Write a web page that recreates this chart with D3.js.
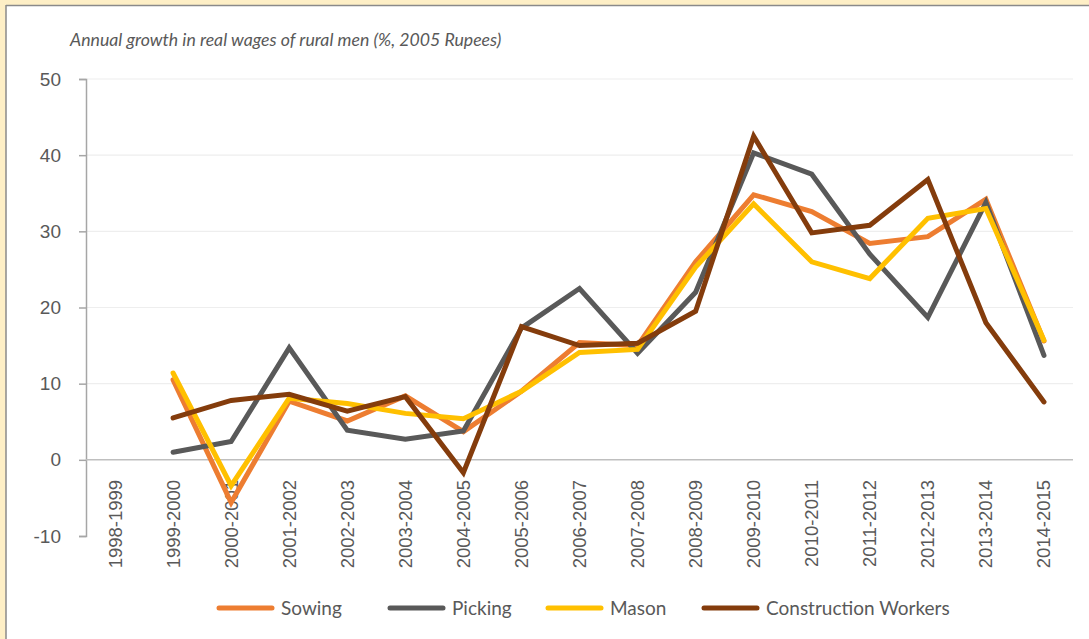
<!DOCTYPE html>
<html>
<head>
<meta charset="utf-8">
<script src="https://cdn.jsdelivr.net/npm/d3@7"></script>
<style>
  html, body { margin: 0; padding: 0; background: #FEEFC6; }
  svg { display: block; }
</style>
</head>
<body>
<svg id="chart" width="1089" height="639"></svg>
<script>
const categories = ["1998-1999","1999-2000","2000-2001","2001-2002","2002-2003","2003-2004","2004-2005","2005-2006","2006-2007","2007-2008","2008-2009","2009-2010","2010-2011","2011-2012","2012-2013","2013-2014","2014-2015"];
const sowing       = [null, 10.5, -5.6, 7.7, 5.1, 8.4, 3.7, 9.0, 15.4, 15.0, 26.0, 34.8, 32.6, 28.4, 29.3, 34.2, 15.6];
const picking      = [null, 1.0, 2.4, 14.7, 3.9, 2.7, 3.8, 17.3, 22.5, 14.0, 22.0, 40.3, 37.5, 27.0, 18.7, 33.8, 13.7];
const mason        = [null, 11.4, -3.4, 8.1, 7.4, 6.1, 5.4, 9.0, 14.1, 14.5, 25.3, 33.6, 26.0, 23.8, 31.7, 33.0, 15.7];
const construction = [null, 5.5, 7.8, 8.6, 6.4, 8.3, -1.7, 17.5, 15.0, 15.3, 19.5, 42.5, 29.8, 30.8, 36.8, 18.0, 7.6];
const seriesNames  = ["Sowing", "Picking", "Mason", "Construction Workers"];
const seriesColors = ["#ED7D31", "#595959", "#FFC000", "#843C0C"];
const yTicks = [-10, 0, 10, 20, 30, 40, 50];
const title = "Annual growth in real wages of rural men (%, 2005 Rupees)";

const allSeries = [sowing, picking, mason, construction];

const svg = d3.select("#chart");

// panel frame
svg.append("rect").attr("x", 6).attr("y", 6).attr("width", 1083).attr("height", 633).attr("fill", "#ffffff");
svg.append("line").attr("x1", 6).attr("x2", 1089).attr("y1", 5.5).attr("y2", 5.5).attr("stroke", "#8a8a8a").attr("stroke-width", 1.5);
svg.append("line").attr("x1", 6).attr("x2", 6).attr("y1", 5).attr("y2", 639).attr("stroke", "#8a8a8a").attr("stroke-width", 1.5);

const x = d3.scaleBand().domain(categories).range([86, 1073]);
const y = d3.scaleLinear().domain([-10, 50]).range([536, 79]);

// title
svg.append("text").attr("x", 70).attr("y", 46)
  .attr("font-family", "Lato").attr("font-style", "italic").attr("font-size", 17.7)
  .attr("fill", "#595959").text(title);

// gridlines
svg.append("g").selectAll("line").data(yTicks.filter(t => t > 0)).join("line")
  .attr("x1", 86).attr("x2", 1073)
  .attr("y1", d => y(d)).attr("y2", d => y(d))
  .attr("stroke", "#eeeeee").attr("stroke-width", 1.2);

// y axis
const yAxis = svg.append("g").attr("transform", "translate(86,0)")
  .call(d3.axisLeft(y).tickValues(yTicks).tickFormat(d => String(d)).tickSize(7).tickPadding(18));
yAxis.select(".domain").attr("stroke", "#a6a6a6").attr("stroke-width", 1.5);
yAxis.selectAll(".tick line").attr("stroke", "#a6a6a6").attr("stroke-width", 1.5);
yAxis.selectAll(".tick text").attr("font-family", "Liberation Sans").attr("font-size", 19).attr("fill", "#595959");

// zero line
svg.append("line").attr("x1", 86).attr("x2", 1073).attr("y1", y(0)).attr("y2", y(0))
  .attr("stroke", "#bfbfbf").attr("stroke-width", 1.5);

// x labels
const xAxis = svg.append("g").attr("transform", `translate(0,${y(0)})`)
  .call(d3.axisBottom(x).tickSize(0));
xAxis.select(".domain").remove();
xAxis.selectAll(".tick text")
  .attr("font-family", "Liberation Sans").attr("font-size", 18.5).attr("fill", "#595959")
  .attr("transform", "rotate(-90)")
  .attr("text-anchor", "end")
  .attr("x", -20).attr("y", 0).attr("dy", "0.35em");

// lines
const line = d3.line()
  .defined(d => d.v !== null)
  .x(d => x(d.c) + x.bandwidth() / 2)
  .y(d => y(d.v));

allSeries.forEach((s, i) => {
  const pts = categories.map((c, j) => ({ c, v: s[j] }));
  svg.append("path").datum(pts)
    .attr("fill", "none")
    .attr("stroke", seriesColors[i])
    .attr("stroke-width", 5)
    .attr("stroke-linecap", "round")
    .attr("d", line);
});

// legend
const legendX = [219, 390, 548, 704];
const lg = svg.append("g");
seriesNames.forEach((n, i) => {
  const g = lg.append("g").attr("transform", `translate(${legendX[i]},608)`);
  g.append("line").attr("x1", 0).attr("x2", 53).attr("y1", 0).attr("y2", 0)
    .attr("stroke", seriesColors[i]).attr("stroke-width", 5).attr("stroke-linecap", "round");
  g.append("text").attr("x", 62).attr("y", 0).attr("dy", "0.35em")
    .attr("font-family", "Lato").attr("font-size", 19).attr("fill", "#595959").text(n);
});
</script>
</body>
</html>
